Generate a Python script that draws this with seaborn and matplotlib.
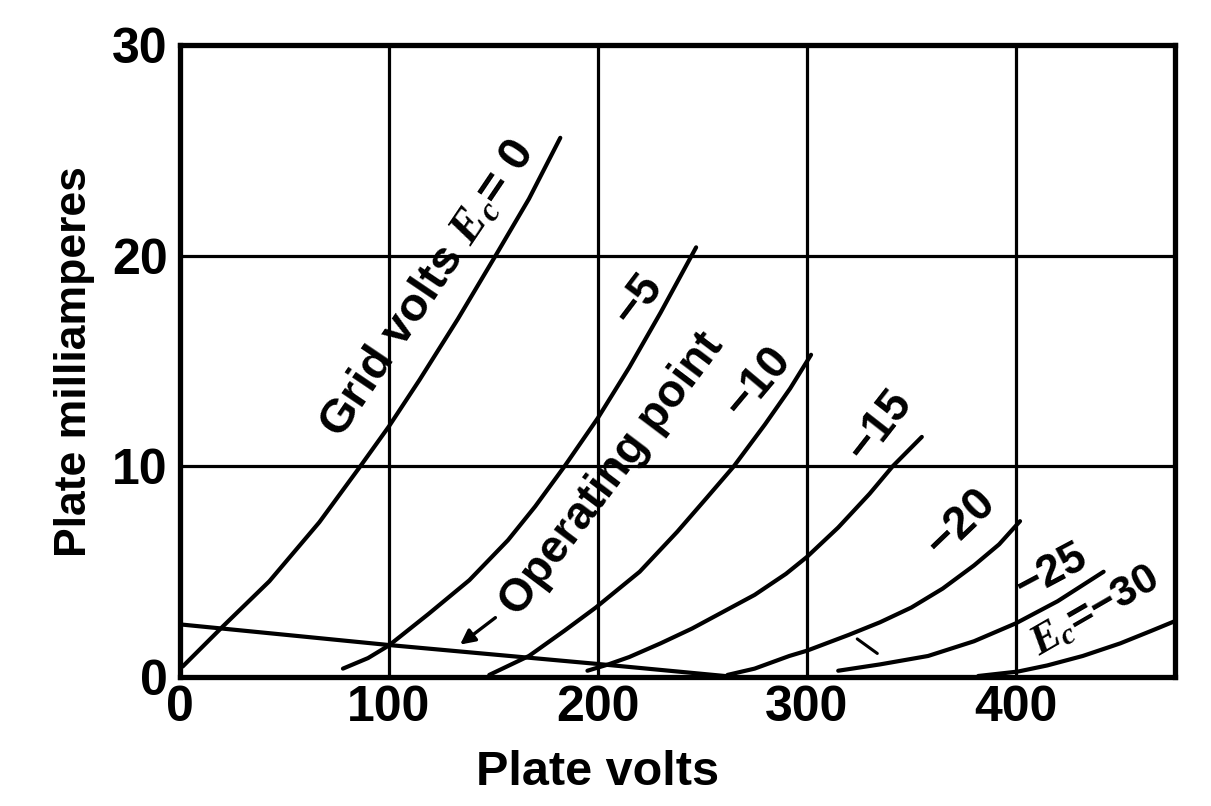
import matplotlib
matplotlib.use("Agg")
import matplotlib.pyplot as plt
import seaborn as sns
import pandas as pd

# ---- data (plate volts, plate milliamperes) ----
curve_names = ["0", "-5", "-10", "-15", "-20", "-25", "-30"]

v_0 = [1.3, 20.5, 42.8, 66.7, 85.9, 100, 114.6, 133, 151, 167, 182]
i_0 = [0.5, 2.4, 4.55, 7.35, 9.95, 11.9, 14.1, 17.0, 20.0, 22.7, 25.6]

v_5 = [78, 90, 100, 119, 138.5, 157, 170, 184, 200, 215, 230, 247]
i_5 = [0.4, 0.9, 1.5, 3.0, 4.6, 6.5, 8.1, 10.0, 12.3, 14.7, 17.3, 20.4]

v_10 = [148, 167, 184, 199, 220, 238, 252, 265, 280, 292, 302]
i_10 = [0.1, 1.0, 2.2, 3.3, 5.0, 6.9, 8.5, 10.0, 12.0, 13.7, 15.3]

v_15 = [195, 205, 215, 230, 245, 260, 275, 290, 300, 315, 330, 341, 355]
i_15 = [0.3, 0.6, 0.95, 1.6, 2.3, 3.1, 3.9, 4.9, 5.7, 7.1, 8.7, 10.0, 11.4]

v_20 = [262, 275, 291.6, 300, 320, 335, 350, 365, 380, 392, 402]
i_20 = [0.1, 0.4, 1.0, 1.25, 2.0, 2.6, 3.3, 4.2, 5.3, 6.3, 7.4]

v_25 = [315, 335, 358, 380, 400, 420, 442]
i_25 = [0.3, 0.6, 1.0, 1.7, 2.55, 3.6, 5.0]

v_30 = [382, 401, 415, 432, 450, 465, 476]
i_30 = [0.05, 0.26, 0.55, 1.0, 1.6, 2.2, 2.65]

load_v = [0, 100, 200, 266]
load_i = [2.5, 1.52, 0.62, 0.0]

op_arrow_tail = (152, 2.9)
op_arrow_head = (133, 1.46)
mark_v = [324.1, 333.7]
mark_i = [1.81, 1.12]

x_ticks = [0, 100, 200, 300, 400]
y_ticks = [0, 10, 20, 30]

# label texts
lbl_texts = ["Grid volts $E_c$= 0", "Operating point", "\u22125", "\u221210",
             "\u221215", "\u221220", "\u221225", "$E_c$=\u221230"]
lbl_v = [119.0, 206.8, 219.3, 276.4, 334.7, 373.5, 416.9, 438]
lbl_i = [18.4, 9.6, 17.9, 14.0, 11.9, 7.3, 5.0, 3.1]
lbl_rot = [56, 53, 53, 50, 52, 44, 28, 30]
lbl_size = [34, 33, 33, 33, 33, 33, 32, 31]

# ---- build long table ----
all_v = [v_0, v_5, v_10, v_15, v_20, v_25, v_30, load_v]
all_i = [i_0, i_5, i_10, i_15, i_20, i_25, i_30, load_i]
names = curve_names + ["load"]
rows = []
for n, vs, cs in zip(names, all_v, all_i):
    for k, (a, b) in enumerate(zip(vs, cs)):
        rows.append({"curve": n, "order": k, "V": a, "I": b})
df = pd.DataFrame(rows)

sns.set_theme(style="white")
plt.rcParams["font.family"] = ["Liberation Sans", "DejaVu Sans"]
plt.rcParams["mathtext.fontset"] = "custom"
plt.rcParams["mathtext.it"] = "Liberation Serif:italic:bold"
plt.rcParams["mathtext.rm"] = "Liberation Sans:bold"
plt.rcParams["mathtext.bf"] = "Liberation Sans:bold"

fig = plt.figure(figsize=(12.11, 8.06), dpi=100)
ax = fig.add_axes([0.1486, 0.160, 0.8214, 0.784])

sns.lineplot(data=df, x="V", y="I", units="curve", estimator=None, sort=False,
             color="black", lw=3.0, ax=ax, legend=False)

sns.lineplot(x=mark_v, y=mark_i, color="black", lw=2.2, ax=ax, legend=False)

ax.annotate("", xy=op_arrow_head, xytext=op_arrow_tail,
            arrowprops=dict(arrowstyle="-|>", color="black", lw=2.4,
                            mutation_scale=22))

for t, x, y, r, s in zip(lbl_texts, lbl_v, lbl_i, lbl_rot, lbl_size):
    ax.text(x, y, t, rotation=r, rotation_mode="anchor", ha="center",
            va="center", fontsize=s, color="black", fontweight="bold")

ax.set_xlim(0, 476)
ax.set_ylim(0, 30)
ax.set_xticks(x_ticks)
ax.set_yticks(y_ticks)
ax.set_xticklabels([str(v) for v in x_ticks], fontweight="bold")
ax.set_yticklabels([str(v) for v in y_ticks], fontweight="bold")
ax.tick_params(axis="both", length=0, labelsize=36, colors="black")
ax.tick_params(axis="x", pad=6)
ax.tick_params(axis="y", pad=9)
ax.grid(True, color="black", lw=2.3)
for sp in ax.spines.values():
    sp.set_color("black")
    sp.set_linewidth(3.8)
    sp.set_visible(True)

ax.set_xlabel("Plate volts", fontsize=35, color="black", fontweight="bold")
ax.set_ylabel("Plate milliamperes", fontsize=32, color="black", fontweight="bold")
ax.xaxis.set_label_coords(0.42, -0.115)
ax.yaxis.set_label_coords(-0.085, 0.50)

fig.savefig("out.png", dpi=100, facecolor="white")
